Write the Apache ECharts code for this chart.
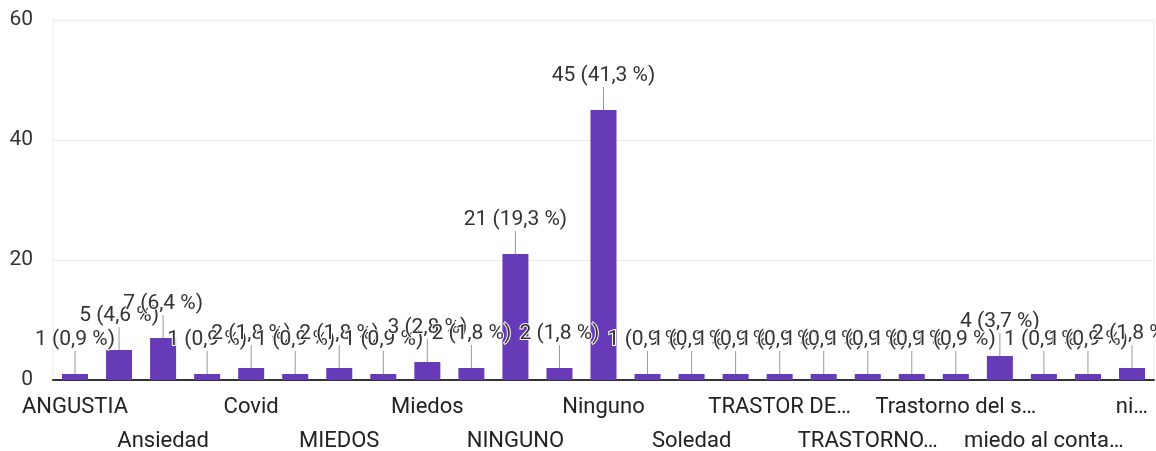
<!DOCTYPE html>
<html>
<head>
<meta charset="utf-8">
<script src="https://cdn.jsdelivr.net/npm/echarts@6/dist/echarts.min.js"></script>
<style>
html,body{margin:0;padding:0;background:#fff;}
#chart{width:1156px;height:451px;}
</style>
</head>
<body>
<div id="chart"></div>
<script>
const categories = [
  "ANGUSTIA", "Angustia", "Ansiedad", "Ansiedad y estrés", "Covid", "Depresión",
  "MIEDOS", "Miedo", "Miedos", "NADA", "NINGUNO", "Nada", "Ninguno",
  "Preocupación", "Soledad", "Stress", "TRASTOR DE…", "TRASTORNO ALIMENTICIO",
  "TRASTORNO…", "Tensión", "Trastorno del s…", "ansiedad", "miedo al conta…",
  "miedos", "ni…"
];
const counts = [1, 5, 7, 1, 2, 1, 2, 1, 3, 2, 21, 2, 45, 1, 1, 1, 1, 1, 1, 1, 1, 4, 1, 1, 2];
const yTicks = [0, 20, 40, 60];

const total = counts.reduce((a, b) => a + b, 0);
const fmtPct = v => (v / total * 100).toFixed(1).replace('.', ',');

const baseLabel = { fontSize: 22, color: '#222', hideOverlap: false };

const chart = echarts.init(document.getElementById('chart'));
chart.setOption({
  animation: false,
  textStyle: { fontFamily: 'Roboto' },
  grid: {
    left: 53, right: 2, top: 20, bottom: 71,
    containLabel: false,
    outerBoundsMode: 'none',
    show: true, borderColor: '#ececec', borderWidth: 1
  },
  xAxis: [{
    type: 'category',
    data: categories,
    position: 'bottom',
    axisTick: { show: false },
    axisLine: { lineStyle: { color: '#333', width: 2 } },
    axisLabel: Object.assign({}, baseLabel, {
      margin: 16,
      interval: i => i % 4 === 0
    })
  }, {
    type: 'category',
    data: categories,
    position: 'bottom',
    axisTick: { show: false },
    axisLine: { show: false },
    splitLine: { show: false },
    axisLabel: Object.assign({}, baseLabel, {
      margin: 50,
      interval: i => i % 4 === 2
    })
  }],
  yAxis: {
    type: 'value',
    min: yTicks[0],
    max: yTicks[yTicks.length - 1],
    interval: 20,
    axisLine: { show: false },
    axisTick: { show: false },
    splitLine: { lineStyle: { color: '#ececec', width: 1 } },
    axisLabel: { fontSize: 21, color: '#333', margin: 20 }
  },
  series: [{
    type: 'bar',
    data: counts,
    barWidth: 26,
    itemStyle: { color: '#673ab7' },
    label: {
      show: true,
      position: 'top',
      distance: 0,
      fontSize: 21,
      color: '#333',
      textBorderColor: '#fff',
      textBorderWidth: 2,
      formatter: p => p.value + ' (' + fmtPct(p.value) + ' %)'
    },
    labelLayout: { dy: -24 },
    labelLine: { show: true, lineStyle: { color: '#999', width: 1 } }
  }]
});
</script>
</body>
</html>
